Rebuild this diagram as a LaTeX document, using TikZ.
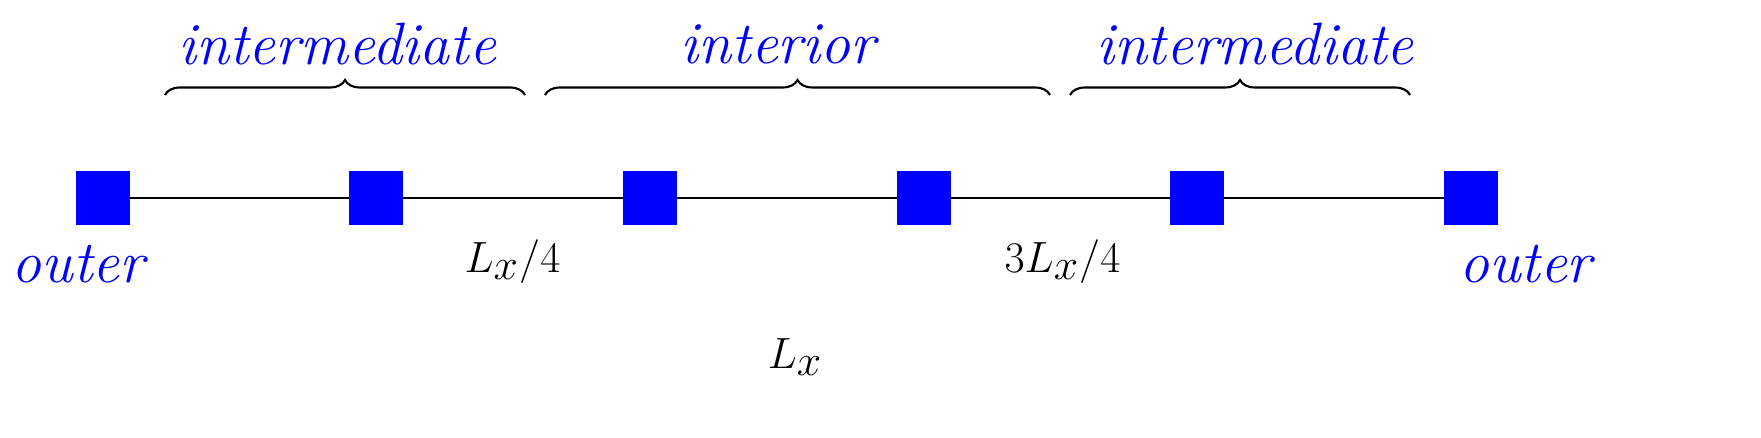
\documentclass[tikz,border=0pt]{standalone}
\usetikzlibrary{decorations.pathreplacing}
\begin{document}
\begin{tikzpicture}[
  sq/.style={fill=blue,minimum size=1.08cm,inner sep=0pt},
  lab/.style={font=\fontsize{34}{40}\selectfont},
  mlab/.style={font=\fontsize{46}{52}\selectfont},
  blab/.style={lab,text=blue},
  br/.style={decorate,decoration={brace,amplitude=0.3cm},line width=1.2pt}]
\foreach \i/\x in {1/2.06,2/7.52,3/13.0,4/18.48,5/23.94,6/29.42}
  \node[sq] (s\i) at (\x,4.78) {};
\draw[line width=1.2pt] (s1.center) -- (s6.center);
\foreach \i in {1,...,6} \node[sq] at (s\i) {};
\coordinate (a1) at (3.3,6.84); \coordinate (a2) at (10.5,6.84);
\coordinate (b1) at (10.9,6.84); \coordinate (b2) at (21.0,6.84);
\coordinate (c1) at (21.4,6.84); \coordinate (c2) at (28.2,6.84);
\draw[br] (a1) -- (a2); \draw[br] (b1) -- (b2); \draw[br] (c1) -- (c2);
\node[blab] (t1) at (6.75,7.85) {\textit{intermediate}};
\node[blab] (t2) at (15.6,7.85) {\textit{interior}};
\node[blab] (t3) at (25.1,7.85) {\textit{intermediate}};
\node[blab] (o1) at (1.6,3.45) {\textit{outer}};
\node[blab] (o2) at (30.55,3.45) {\textit{outer}};
\node[mlab] (q1) at (10.25,3.5) {$L_x/4$};
\node[mlab] (q3) at (21.25,3.5) {$3L_x/4$};
\node[mlab] (lx) at (15.9,1.6) {$L_x$};
\pgfresetboundingbox
\useasboundingbox (0,0) rectangle (35.22,8.74);
\end{tikzpicture}
\end{document}
